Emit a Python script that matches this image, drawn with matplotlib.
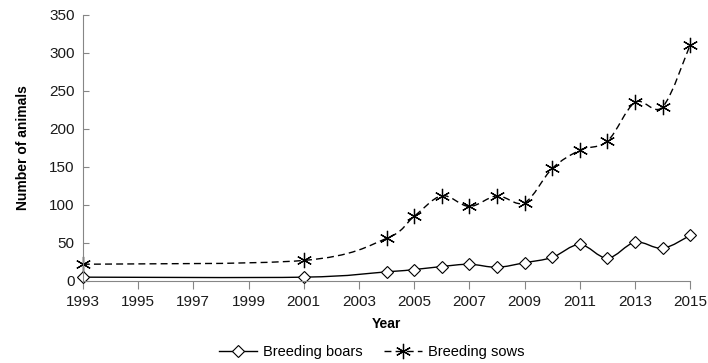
import matplotlib
matplotlib.use("Agg")
import matplotlib.pyplot as plt
from matplotlib.path import Path
from matplotlib.patches import PathPatch
from matplotlib.lines import Line2D

years = [1993, 2001, 2004, 2005, 2006, 2007, 2008, 2009, 2010, 2011, 2012, 2013, 2014, 2015]
boars = [5, 5, 12, 15, 19, 22, 18, 24, 31, 48, 30, 51, 43, 60]
sows = [22, 27, 56, 85, 112, 98, 112, 103, 148, 172, 184, 235, 229, 311]
xticks = list(range(1993, 2016, 2))
yticks = list(range(0, 351, 50))

plt.rcParams["font.family"] = ["Liberation Sans", "DejaVu Sans"]


def smooth_path(x, y):
    # Excel style smoothed line: cubic bezier through every point
    pts = list(zip(x, y))
    verts = [pts[0]]
    codes = [Path.MOVETO]
    for i in range(len(pts) - 1):
        p0 = pts[i - 1] if i > 0 else pts[i]
        p1 = pts[i]
        p2 = pts[i + 1]
        p3 = pts[i + 2] if i + 2 < len(pts) else pts[i + 1]
        c1 = (p1[0] + (p2[0] - p0[0]) / 6, p1[1] + (p2[1] - p0[1]) / 6)
        c2 = (p2[0] - (p3[0] - p1[0]) / 6, p2[1] - (p3[1] - p1[1]) / 6)
        verts += [c1, c2, p2]
        codes += [Path.CURVE4] * 3
    return Path(verts, codes)


fig = plt.figure(figsize=(7.08, 3.63), dpi=100)
ax = fig.add_axes([0.117, 0.226, 0.858, 0.733])

ax.add_patch(PathPatch(smooth_path(years, boars), fill=False, edgecolor="black", lw=1.0))
ax.add_patch(PathPatch(smooth_path(years, sows), fill=False, edgecolor="black", lw=1.0,
                       linestyle=(0, (5, 3))))
ax.plot(years, boars, linestyle="none", marker="D", markersize=6.5, markerfacecolor="white",
        markeredgecolor="black", markeredgewidth=0.8, clip_on=False)
ax.plot(years, sows, linestyle="none", marker=(6, 2, 0), markersize=11,
        markeredgecolor="black", markeredgewidth=0.9, clip_on=False)

ax.set_xlim(1993, 2015)
ax.set_ylim(0, 350)
ax.set_xticks(xticks)
ax.set_yticks(yticks)
ax.tick_params(axis="x", direction="out", length=6, color="#868686", labelsize=11, pad=4,
               labelcolor="#1a1a1a")
ax.tick_params(axis="y", direction="in", length=4, color="#868686", labelsize=11, pad=6,
               labelcolor="#1a1a1a")
for s in ["top", "right"]:
    ax.spines[s].set_visible(False)
for s in ["left", "bottom"]:
    ax.spines[s].set_color("#868686")

ax.set_xlabel("Year", fontsize=10, fontweight="bold", labelpad=6)
ax.set_ylabel("Number of animals", fontsize=10, fontweight="bold", labelpad=14)

handles = [
    Line2D([], [], color="black", lw=1.0, marker="D", markersize=6.5, markerfacecolor="white",
           markeredgewidth=0.8),
    Line2D([], [], color="black", lw=1.0, linestyle=(0, (5, 3)), marker=(6, 2, 0),
           markersize=11, markeredgewidth=0.9),
]
fig.legend(handles, ["Breeding boars", "Breeding sows"], loc="center", bbox_to_anchor=(0.525, 0.03),
           ncol=2, frameon=False, fontsize=10.5, handlelength=2.6, columnspacing=1.5,
           handletextpad=0.4)

fig.savefig("out.png", dpi=100)
